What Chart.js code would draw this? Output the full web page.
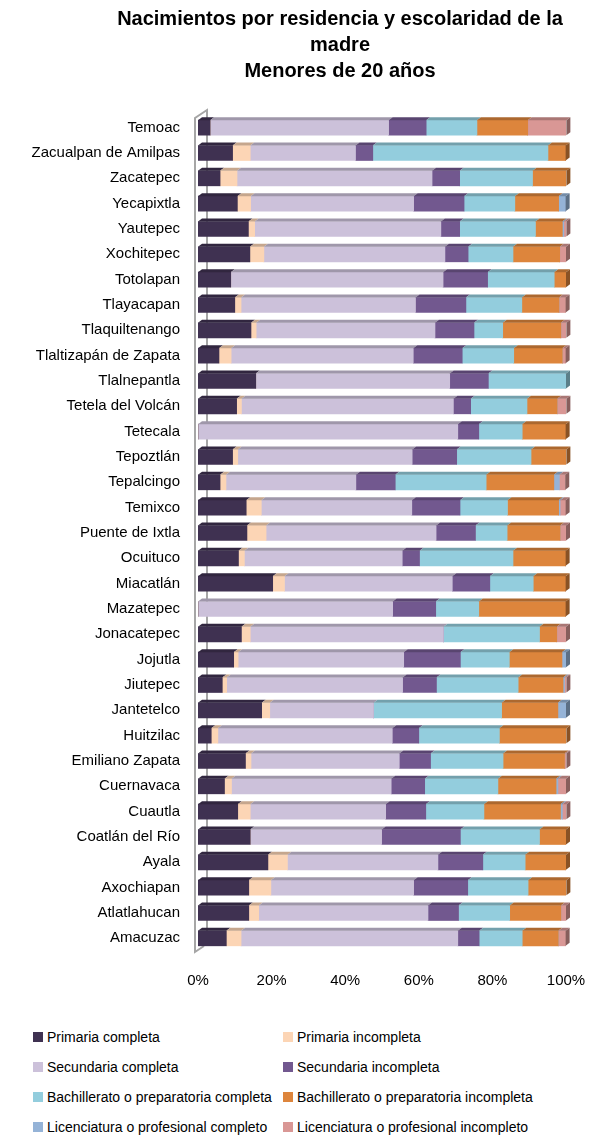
<!DOCTYPE html>
<html>
<head>
<meta charset="utf-8">
<script src="https://cdn.jsdelivr.net/npm/chart.js@4/dist/chart.umd.min.js"></script>
<style>
  body { margin: 0; background: #fff; font-family: "Liberation Sans", Arial, sans-serif; }
  #wrap { position: relative; width: 614px; height: 1138px; }
  #title { position: absolute; top: 5px; left: 66px; width: 548px; text-align: center; font-weight: bold; font-size: 20px; line-height: 26px; color: #000; }
  #chart { position: absolute; top: 0; left: 0; }
  #legend { position: absolute; top: 1027px; left: 33px; display: grid; grid-template-columns: 250px 320px; row-gap: 10px; font-size: 14px; color: #000; }
  .item { display: flex; align-items: center; height: 20px; white-space: nowrap; }
  .box { width: 10px; height: 10px; margin-right: 4px; flex-shrink: 0; }
</style>
</head>
<body>
<div id="wrap">
  <canvas id="chart" width="614" height="1020"></canvas>
  <div id="title">Nacimientos por residencia y escolaridad de la<br>madre<br>Menores de 20 años</div>
  <div id="legend"></div>
</div>
<script>
// municipios, de arriba hacia abajo
const municipios = ["Temoac", "Zacualpan de Amilpas", "Zacatepec", "Yecapixtla", "Yautepec", "Xochitepec",
  "Totolapan", "Tlayacapan", "Tlaquiltenango", "Tlaltizapán de Zapata", "Tlalnepantla", "Tetela del Volcán",
  "Tetecala", "Tepoztlán", "Tepalcingo", "Temixco", "Puente de Ixtla", "Ocuituco", "Miacatlán", "Mazatepec",
  "Jonacatepec", "Jojutla", "Jiutepec", "Jantetelco", "Huitzilac", "Emiliano Zapata", "Cuernavaca", "Cuautla",
  "Coatlán del Río", "Ayala", "Axochiapan", "Atlatlahucan", "Amacuzac"];

// porcentajes por escolaridad
const primariaCompleta = [3.3, 9.4, 6.0, 10.7, 13.7, 14.1, 8.9, 10.0, 14.4, 5.7, 15.7, 10.5, 0, 9.4, 6.0, 13.1, 13.3, 11.0, 20.3, 0, 11.8, 9.7, 6.6, 17.3, 3.6, 12.9, 7.2, 10.8, 14.2, 19.0, 13.8, 13.8, 7.7];
const primariaIncompleta = [0, 4.8, 4.6, 3.6, 1.7, 3.8, 0, 1.7, 1.4, 3.3, 0, 1.3, 0, 1.4, 1.6, 4.1, 5.2, 1.6, 3.2, 0, 2.4, 1.2, 1.2, 2.2, 1.8, 1.5, 1.9, 3.4, 0, 5.3, 6.0, 2.7, 4.0];
const secundariaCompleta = [48.5, 28.6, 53.0, 44.3, 50.6, 49.2, 57.7, 47.4, 48.6, 49.5, 52.7, 57.6, 70.6, 47.4, 35.3, 40.9, 46.2, 42.9, 45.6, 52.9, 52.5, 45.0, 47.8, 28.2, 47.4, 40.3, 43.4, 36.8, 35.7, 40.9, 38.8, 46.0, 58.9];
const secundariaIncompleta = [10.2, 4.7, 7.5, 13.7, 5.1, 6.3, 12.1, 13.7, 10.6, 13.3, 10.5, 4.7, 5.7, 12.1, 10.7, 13.1, 10.7, 4.7, 10.2, 11.7, 0, 15.4, 9.2, 0, 7.2, 8.5, 9.1, 10.9, 21.4, 12.2, 14.7, 8.3, 5.8];
const bachCompleta = [13.8, 47.6, 19.8, 13.8, 20.6, 12.2, 18.1, 15.2, 7.8, 14.0, 21.1, 15.3, 11.8, 20.2, 24.7, 12.9, 8.6, 25.4, 11.8, 11.7, 26.1, 13.3, 22.2, 34.8, 21.9, 19.7, 19.9, 15.8, 21.5, 11.5, 16.4, 13.9, 11.7];
const bachIncompleta = [13.8, 4.8, 9.2, 11.9, 7.3, 12.7, 3.2, 10.1, 15.8, 13.2, 0, 8.2, 11.8, 9.6, 18.4, 13.9, 14.4, 14.3, 8.8, 23.6, 4.7, 14.3, 12.2, 15.3, 18.2, 16.7, 15.8, 20.8, 7.2, 11.1, 10.4, 13.9, 9.8];
const licCompleto = [0, 0, 0, 1.9, 0.4, 0, 0, 0, 0, 0, 0, 0, 0, 0, 1.5, 0.4, 0, 0, 0, 0, 0, 1.1, 0.4, 2.2, 0, 0, 0.5, 0.5, 0, 0, 0, 0, 0];
const licIncompleto = [10.5, 0, 0, 0, 0.7, 1.7, 0, 1.8, 1.5, 0.9, 0, 2.5, 0, 0, 1.6, 1.5, 1.6, 0, 0, 0, 2.5, 0, 0.5, 0, 0, 0.5, 2.2, 1.1, 0, 0, 0, 1.4, 2.0];

const xTicks = [0, 20, 40, 60, 80, 100];

const series = [
  { label: "Primaria completa", data: primariaCompleta, color: "#3f3151" },
  { label: "Primaria incompleta", data: primariaIncompleta, color: "#fcd5b5" },
  { label: "Secundaria completa", data: secundariaCompleta, color: "#ccc1da" },
  { label: "Secundaria incompleta", data: secundariaIncompleta, color: "#72588f" },
  { label: "Bachillerato o preparatoria completa", data: bachCompleta, color: "#93cddd" },
  { label: "Bachillerato o preparatoria incompleta", data: bachIncompleta, color: "#dd853c" },
  { label: "Licenciatura o profesional completo", data: licCompleto, color: "#95b3d7" },
  { label: "Licenciatura o profesional incompleto", data: licIncompleto, color: "#d99795" },
];

function shade(hex, f) {
  const n = parseInt(hex.slice(1), 16);
  const r = Math.round(((n >> 16) & 255) * f), g = Math.round(((n >> 8) & 255) * f), b = Math.round((n & 255) * f);
  return `rgb(${r},${g},${b})`;
}

const DX = 4, DY = 3; // profundidad 3D

// pared izquierda en 3D
const wallPlugin = {
  id: "wall",
  beforeDatasetsDraw(chart) {
    const { ctx, chartArea: a } = chart;
    ctx.save();
    ctx.strokeStyle = "#a6a6a6";
    ctx.lineWidth = 2;
    ctx.beginPath();
    ctx.moveTo(a.left + 9, a.bottom - 6);
    ctx.lineTo(a.left + 9, a.top - 5);
    ctx.lineTo(a.left - 3, a.top + 3);
    ctx.lineTo(a.left - 3, a.bottom + 1);
    ctx.lineTo(a.left + 6, a.bottom - 5);
    ctx.stroke();
    ctx.restore();
  },
};

// caras superiores y laterales de las barras
const depthPlugin = {
  id: "depth",
  afterDatasetsDraw(chart) {
    const ctx = chart.ctx;
    ctx.save();
    const last = [];
    chart.data.datasets.forEach((ds, di) => {
      const meta = chart.getDatasetMeta(di);
      meta.data.forEach((bar, i) => {
        const x0 = Math.min(bar.x, bar.base), x1 = Math.max(bar.x, bar.base);
        if (x1 - x0 < 0.3) return;
        const top = bar.y - bar.height / 2;
        ctx.fillStyle = shade(ds.backgroundColor, 0.78);
        ctx.beginPath();
        ctx.moveTo(x0, top);
        ctx.lineTo(x0 + DX, top - DY);
        ctx.lineTo(x1 + DX, top - DY);
        ctx.lineTo(x1, top);
        ctx.closePath();
        ctx.fill();
        last[i] = { x1, top, bottom: bar.y + bar.height / 2, color: ds.backgroundColor };
      });
    });
    last.forEach((s) => {
      if (!s) return;
      ctx.fillStyle = shade(s.color, 0.62);
      ctx.beginPath();
      ctx.moveTo(s.x1, s.top);
      ctx.lineTo(s.x1 + DX, s.top - DY);
      ctx.lineTo(s.x1 + DX, s.bottom - DY);
      ctx.lineTo(s.x1, s.bottom);
      ctx.closePath();
      ctx.fill();
    });
    ctx.restore();
  },
};

const fontFam = '"Liberation Sans", Arial, sans-serif';

new Chart(document.getElementById("chart"), {
  type: "bar",
  data: {
    labels: municipios,
    datasets: series.map((s) => ({
      label: s.label,
      data: s.data,
      backgroundColor: s.color,
      borderWidth: 0,
      barThickness: 15,
    })),
  },
  options: {
    indexAxis: "y",
    responsive: false,
    animation: false,
    layout: { padding: { top: 115, right: 48, bottom: 9, left: 0 } },
    plugins: { legend: { display: false }, tooltip: { enabled: false } },
    scales: {
      x: {
        stacked: true,
        min: 0,
        max: 100,
        afterBuildTicks: (scale) => { scale.ticks = xTicks.map((v) => ({ value: v })); },
        grid: { display: false, drawTicks: false },
        border: { display: false },
        ticks: { padding: 21, color: "#000", font: { family: fontFam, size: 15 }, callback: (v) => v + "%" },
      },
      y: {
        stacked: true,
        afterFit: (scale) => { scale.width = 198; },
        grid: { display: false, drawTicks: false },
        border: { display: false },
        ticks: { padding: 18, color: "#000", autoSkip: false, font: { family: fontFam, size: 15 } },
      },
    },
  },
  plugins: [wallPlugin, depthPlugin],
});

// leyenda en dos columnas
const legend = document.getElementById("legend");
series.forEach((s) => {
  const item = document.createElement("div");
  item.className = "item";
  item.innerHTML = `<span class="box" style="background:${s.color}"></span><span>${s.label}</span>`;
  legend.appendChild(item);
});
</script>
</body>
</html>
